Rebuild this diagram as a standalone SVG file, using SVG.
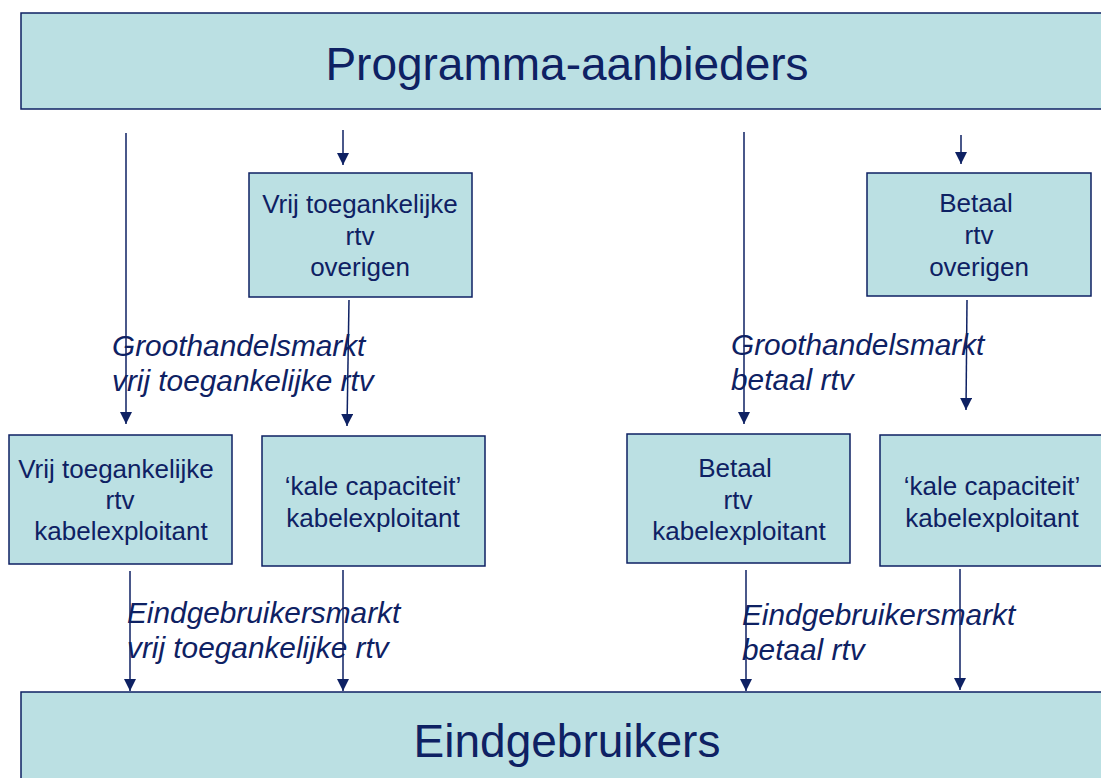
<svg xmlns="http://www.w3.org/2000/svg" width="1101" height="778" viewBox="0 0 1101 778">
<style>
.box{fill:#BBE0E3;stroke:#0E2163;stroke-width:1.5}
.t{font-family:"Liberation Sans",Arial,sans-serif;fill:#0E2163;text-anchor:middle}
.bt{font-size:26px}
.big{font-size:46px}
.lab{font-family:"Liberation Sans",Arial,sans-serif;fill:#0E2163;font-size:29.8px;font-style:italic}
.ln{stroke:#0E2163;stroke-width:1.5;fill:none;marker-end:url(#ah)}
</style>
<defs>
<marker id="ah" viewBox="0 0 12 12" refX="12" refY="6" markerWidth="12" markerHeight="12" markerUnits="userSpaceOnUse" orient="auto">
<path d="M0,0 L12,6 L0,12 z" fill="#0E2163"/>
</marker>
</defs>
<rect width="1101" height="778" fill="#fff"/>
<g id="connectors">
<line class="ln" x1="126" y1="133" x2="126" y2="424"/>
<line class="ln" x1="343" y1="130" x2="343" y2="165"/>
<line class="ln" x1="349" y1="300" x2="347" y2="426"/>
<line class="ln" x1="744" y1="132" x2="744" y2="424"/>
<line class="ln" x1="961" y1="135" x2="961" y2="164"/>
<line class="ln" x1="967" y1="300" x2="966" y2="410"/>
<line class="ln" x1="130" y1="571" x2="130" y2="691"/>
<line class="ln" x1="343" y1="570" x2="343" y2="691"/>
<line class="ln" x1="746" y1="570" x2="746" y2="691"/>
<line class="ln" x1="960" y1="569" x2="960" y2="690"/>
</g>
<g id="programma-aanbieders">
<rect class="box" x="21" y="13" width="1090" height="96"/>
<text class="t big" x="567" y="80">Programma-aanbieders</text>
</g>
<g id="vrij-overigen">
<rect class="box" x="249" y="173" width="223" height="124"/>
<text class="t bt" x="360" y="213">Vrij toegankelijke</text>
<text class="t bt" x="360" y="245">rtv</text>
<text class="t bt" x="360" y="276">overigen</text>
</g>
<g id="betaal-overigen">
<rect class="box" x="867" y="173" width="224" height="123"/>
<text class="t bt" x="976" y="212">Betaal</text>
<text class="t bt" x="979" y="244">rtv</text>
<text class="t bt" x="979" y="276">overigen</text>
</g>
<g id="vrij-kabel">
<rect class="box" x="9" y="435" width="223" height="129"/>
<text class="t bt" x="116" y="478">Vrij toegankelijke</text>
<text class="t bt" x="120" y="509">rtv</text>
<text class="t bt" x="121" y="540">kabelexploitant</text>
</g>
<g id="kale-1">
<rect class="box" x="262" y="436" width="223" height="130"/>
<text class="t bt" x="373" y="495">‘kale capaciteit’</text>
<text class="t bt" x="373" y="527">kabelexploitant</text>
</g>
<g id="betaal-kabel">
<rect class="box" x="627" y="434" width="223" height="129"/>
<text class="t bt" x="735" y="477">Betaal</text>
<text class="t bt" x="738" y="509">rtv</text>
<text class="t bt" x="739" y="540">kabelexploitant</text>
</g>
<g id="kale-2">
<rect class="box" x="880" y="435" width="230" height="131"/>
<text class="t bt" x="992" y="495">‘kale capaciteit’</text>
<text class="t bt" x="992" y="527">kabelexploitant</text>
</g>
<g id="eindgebruikers">
<rect class="box" x="21" y="692" width="1090" height="100"/>
<text class="t big" x="567" y="757">Eindgebruikers</text>
</g>
<g id="labels">
<text class="lab" x="112" y="356">Groothandelsmarkt</text>
<text class="lab" x="112" y="391">vrij toegankelijke rtv</text>
<text class="lab" x="731" y="355">Groothandelsmarkt</text>
<text class="lab" x="731" y="390">betaal rtv</text>
<text class="lab" x="127" y="623">Eindgebruikersmarkt</text>
<text class="lab" x="127" y="658">vrij toegankelijke rtv</text>
<text class="lab" x="742" y="625">Eindgebruikersmarkt</text>
<text class="lab" x="742" y="660">betaal rtv</text>
</g>
</svg>
